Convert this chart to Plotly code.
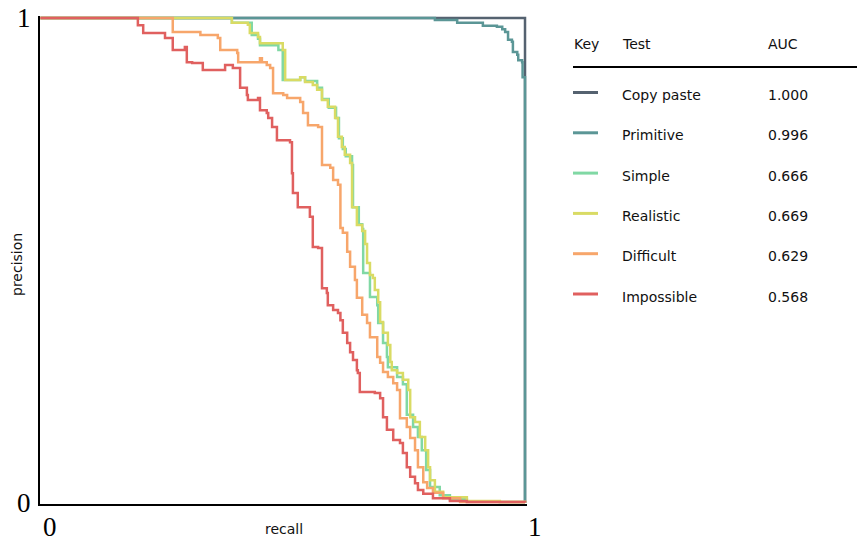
import plotly.graph_objects as go

# Precision-recall curves per test set (step curves, recall -> precision)
tests = ["Copy paste", "Primitive", "Simple", "Realistic", "Difficult", "Impossible"]
auc = ["1.000", "0.996", "0.666", "0.669", "0.629", "0.568"]
colors = ["#556270", "#5b9696", "#80d8a4", "#d9db64", "#f7a66b", "#e0605f"]

copy_recall = [0.0, 1.0, 1.0]
copy_precision = [1.0, 1.0, 0.0]

primitive_recall = [0.0, 0.814, 0.860, 0.913, 0.942, 0.953, 0.959, 0.965, 0.973, 0.975,
                    0.984, 0.986, 0.994, 0.995, 1.0]
primitive_precision = [1.0, 0.996, 0.990, 0.984, 0.982, 0.977, 0.971, 0.955, 0.951, 0.930,
                       0.924, 0.913, 0.909, 0.878, 0.0]

simple_recall = [0.0, 0.395, 0.436, 0.449, 0.453, 0.491, 0.500, 0.536, 0.546, 0.571,
                 0.581, 0.595, 0.610, 0.616, 0.624, 0.630, 0.643, 0.645, 0.657, 0.664,
                 0.666, 0.680, 0.695, 0.697, 0.707, 0.715, 0.717, 0.736, 0.748, 0.756,
                 0.769, 0.779, 0.787, 0.796, 0.804, 0.824, 0.845, 0.880, 0.948, 1.0]
simple_precision = [1.0, 0.990, 0.965, 0.957, 0.944, 0.934, 0.872, 0.878, 0.870, 0.856,
                    0.833, 0.815, 0.794, 0.752, 0.730, 0.715, 0.697, 0.610, 0.575, 0.565,
                    0.474, 0.425, 0.408, 0.371, 0.330, 0.301, 0.280, 0.260, 0.245, 0.182,
                    0.157, 0.136, 0.109, 0.068, 0.033, 0.016, 0.008, 0.003, 0.002, 0.001]

realistic_recall = [0.0, 0.395, 0.428, 0.432, 0.449, 0.453, 0.500, 0.505, 0.536, 0.546,
                    0.562, 0.571, 0.581, 0.593, 0.608, 0.614, 0.622, 0.628, 0.639, 0.643,
                    0.653, 0.664, 0.670, 0.674, 0.680, 0.686, 0.690, 0.697, 0.701, 0.707,
                    0.717, 0.722, 0.725, 0.736, 0.748, 0.759, 0.763, 0.773, 0.783, 0.794,
                    0.800, 0.804, 0.814, 0.831, 0.880, 0.948, 1.0]
realistic_precision = [1.0, 0.990, 0.986, 0.969, 0.961, 0.948, 0.934, 0.872, 0.878, 0.868,
                       0.862, 0.852, 0.831, 0.817, 0.794, 0.755, 0.734, 0.718, 0.701, 0.610,
                       0.573, 0.561, 0.534, 0.495, 0.470, 0.464, 0.439, 0.414, 0.373, 0.351,
                       0.326, 0.291, 0.274, 0.268, 0.254, 0.233, 0.177, 0.167, 0.136, 0.109,
                       0.074, 0.047, 0.023, 0.012, 0.004, 0.002, 0.001]

difficult_recall = [0.0, 0.273, 0.330, 0.366, 0.371, 0.406, 0.408, 0.453, 0.457, 0.467,
                    0.474, 0.480, 0.501, 0.509, 0.536, 0.542, 0.552, 0.573, 0.581, 0.598,
                    0.604, 0.614, 0.619, 0.624, 0.633, 0.639, 0.649, 0.653, 0.664, 0.674,
                    0.680, 0.695, 0.701, 0.707, 0.717, 0.728, 0.736, 0.742, 0.756, 0.763,
                    0.773, 0.779, 0.790, 0.798, 0.810, 0.831, 0.866, 1.0]
difficult_precision = [1.0, 0.971, 0.965, 0.959, 0.934, 0.928, 0.909, 0.917, 0.909, 0.903,
                       0.897, 0.845, 0.841, 0.835, 0.827, 0.804, 0.779, 0.775, 0.697, 0.691,
                       0.666, 0.656, 0.567, 0.557, 0.518, 0.487, 0.460, 0.423, 0.388, 0.371,
                       0.342, 0.301, 0.289, 0.270, 0.260, 0.247, 0.233, 0.175, 0.157, 0.134,
                       0.109, 0.074, 0.043, 0.031, 0.021, 0.010, 0.002, 0.001]

impossible_recall = [0.0, 0.201, 0.212, 0.257, 0.273, 0.298, 0.302, 0.313, 0.335, 0.381,
                     0.397, 0.412, 0.426, 0.428, 0.449, 0.453, 0.467, 0.470, 0.478, 0.488,
                     0.515, 0.519, 0.521, 0.531, 0.556, 0.562, 0.573, 0.581, 0.591, 0.593,
                     0.604, 0.614, 0.619, 0.624, 0.633, 0.639, 0.645, 0.653, 0.655, 0.659,
                     0.690, 0.701, 0.707, 0.715, 0.728, 0.742, 0.748, 0.756, 0.763, 0.773,
                     0.779, 0.790, 0.810, 0.845, 0.880, 1.0]
impossible_precision = [1.0, 0.985, 0.969, 0.959, 0.934, 0.940, 0.909, 0.907, 0.893, 0.903,
                        0.897, 0.856, 0.841, 0.831, 0.835, 0.810, 0.804, 0.794, 0.775, 0.748,
                        0.744, 0.680, 0.639, 0.610, 0.590, 0.528, 0.526, 0.443, 0.433, 0.408,
                        0.398, 0.392, 0.377, 0.351, 0.330, 0.311, 0.295, 0.274, 0.268, 0.229,
                        0.227, 0.216, 0.177, 0.151, 0.130, 0.124, 0.103, 0.074, 0.054, 0.041,
                        0.027, 0.019, 0.010, 0.004, 0.002, 0.001]

series_recall = [copy_recall, primitive_recall, simple_recall, realistic_recall,
                 difficult_recall, impossible_recall]
series_precision = [copy_precision, primitive_precision, simple_precision,
                    realistic_precision, difficult_precision, impossible_precision]

W, H = 857, 542
ML, MR, MT, MB = 40, 330, 16, 38
PW, PH = W - ML - MR, H - MT - MB


def px(x):
    return (x - ML) / PW


def py(y):
    return 1 - (y - MT) / PH


fig = go.Figure()
for name, r, p, c in zip(tests, series_recall, series_precision, colors):
    fig.add_trace(go.Scatter(x=r, y=p, mode="lines", name=name,
                             line=dict(color=c, width=2.5, shape="hv"),
                             showlegend=False, hoverinfo="skip"))

serif = dict(family="Liberation Serif", size=27, color="black")
sans = dict(family="DejaVu Sans", size=14, color="#111111")

annotations = [
    # tick labels
    dict(x=0, y=1, xref="x", yref="y", text="1", showarrow=False, font=serif,
         xanchor="right", yanchor="middle", xshift=-7),
    dict(x=0, y=0, xref="x", yref="y", text="0", showarrow=False, font=serif,
         xanchor="right", yanchor="middle", xshift=-7),
    dict(x=0, y=0, xref="x", yref="y", text="0", showarrow=False, font=serif,
         xanchor="left", yanchor="top", xshift=1, yshift=-7),
    dict(x=1, y=0, xref="x", yref="y", text="1", showarrow=False, font=serif,
         xanchor="left", yanchor="top", xshift=1, yshift=-7),
    # axis titles
    dict(x=0.5, y=py(529), xref="paper", yref="paper", text="recall", showarrow=False,
         font=sans, xanchor="center", yanchor="middle"),
    dict(x=px(17), y=py(265), xref="paper", yref="paper", text="precision", showarrow=False,
         font=sans, xanchor="center", yanchor="middle", textangle=-90),
    # table header
    dict(x=px(572), y=py(44), xref="paper", yref="paper", text="Key", showarrow=False,
         font=sans, xanchor="left", yanchor="middle"),
    dict(x=px(620), y=py(44), xref="paper", yref="paper", text="Test", showarrow=False,
         font=sans, xanchor="left", yanchor="middle"),
    dict(x=px(766), y=py(44), xref="paper", yref="paper", text="AUC", showarrow=False,
         font=sans, xanchor="left", yanchor="middle"),
]

shapes = [
    dict(type="line", xref="paper", yref="paper", x0=px(573), x1=px(857),
         y0=py(67), y1=py(67), line=dict(color="black", width=2)),
]

row0, row_step = 95, 40.3
for i, (name, a, c) in enumerate(zip(tests, auc, colors)):
    yc = row0 + i * row_step
    annotations.append(dict(x=px(620), y=py(yc), xref="paper", yref="paper", text=name,
                            showarrow=False, font=sans, xanchor="left", yanchor="middle"))
    annotations.append(dict(x=px(766), y=py(yc), xref="paper", yref="paper", text=a,
                            showarrow=False, font=sans, xanchor="left", yanchor="middle"))
    shapes.append(dict(type="line", xref="paper", yref="paper", x0=px(573), x1=px(598),
                       y0=py(yc - 2.5), y1=py(yc - 2.5), line=dict(color=c, width=3)))

fig.update_layout(
    width=W, height=H,
    margin=dict(l=ML, r=MR, t=MT, b=MB),
    paper_bgcolor="white", plot_bgcolor="white",
    xaxis=dict(range=[-0.001, 1.0041], showgrid=False, zeroline=False,
               showticklabels=False, ticks="", showline=True, linecolor="black",
               linewidth=2, fixedrange=True),
    yaxis=dict(range=[-0.002, 1.0041], showgrid=False, zeroline=False,
               showticklabels=False, ticks="", showline=True, linecolor="black",
               linewidth=2, fixedrange=True),
    annotations=annotations,
    shapes=shapes,
)

fig.write_html("out.html", config={"displayModeBar": False})
